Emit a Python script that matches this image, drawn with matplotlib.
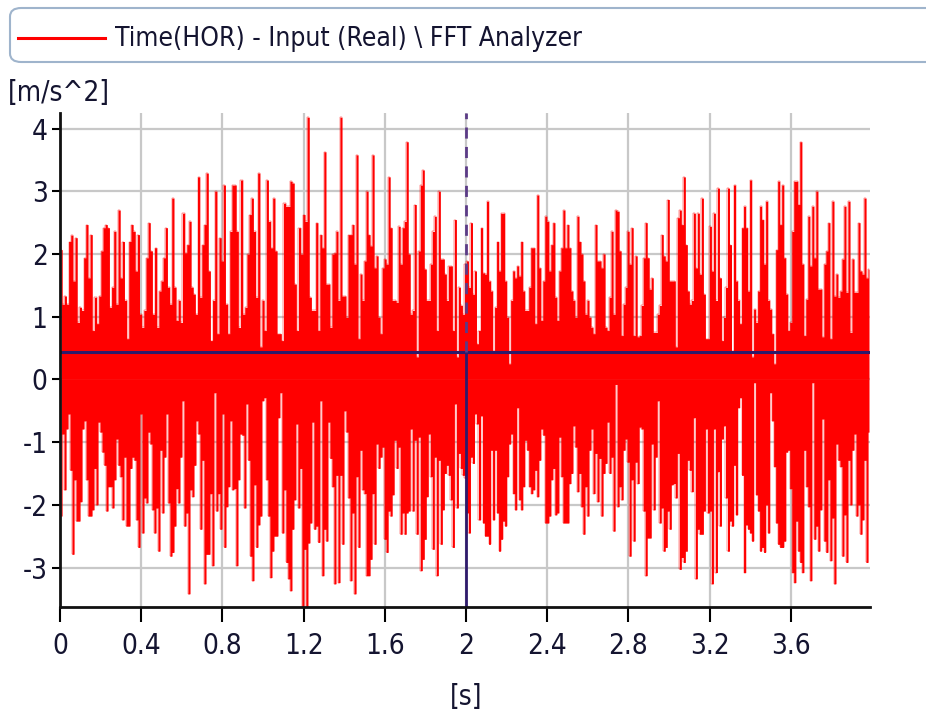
import numpy as np
import matplotlib
matplotlib.use("Agg")
import matplotlib.pyplot as plt
from matplotlib.patches import FancyBboxPatch
from matplotlib.lines import Line2D

plt.rcParams['font.family'] = ['DejaVu Sans']
plt.rcParams['font.stretch'] = 'condensed'
plt.rcParams['axes.unicode_minus'] = False

# ---------------- data ----------------
title_text = "Time(HOR) - Input (Real) \\ FFT Analyzer"
y_unit = "[m/s^2]"
x_unit = "[s]"
x_ticks = [0, 0.4, 0.8, 1.2, 1.6, 2.0, 2.4, 2.8, 3.2, 3.6]
x_tick_labels = ["0", "0.4", "0.8", "1.2", "1.6", "2", "2.4", "2.8", "3.2", "3.6"]
y_ticks = [-3, -2, -1, 0, 1, 2, 3, 4]
t_end = 3.99
cursor_x = 2.0
cursor_y = 0.44
# time breakpoints of the three read segments
seg_t = [0.0, 1.27, 2.754, 3.99]

# upper envelope (positive peaks), segment by segment
upper_a = [2.07,1.2,1.33,1.2,2.2,2.3,1.57,2.26,0.91,1.15,1.1,1.94,2.47,1.62,2.31,0.78,1.31,0.89,1.33,2.05,
           2.42,2.47,2.42,1.15,1.47,2.36,1.2,2.7,1.62,2.2,1.26,0.65,2.2,2.47,2.36,1.73,2.31,1.04,0.83,1.1,
           1.94,2.5,2.05,1.04,2.1,0.83,1.41,1.57,1.94,2.42,1.47,1.2,2.89,1.47,0.94,1.26,0.91,2.65,2.02,2.15,
           2.52,1.47,1.36,1.04,3.23,1.31,2.15,2.47,3.29,1.73,0.62,1.26,3.0,0.73,2.26,1.89,3.1,1.2,0.73,2.36,
           3.1,3.1,2.36,0.83,3.18,1.04,1.15,2.0,2.63,2.89,2.36,1.31,3.29,0.52,1.26,0.78,3.18,2.52,2.1,2.89,
           2.05,0.73,0.73,0.62,2.81,2.76,2.76,3.16,3.13,1.52,0.78,2.42,2.0,2.63,2.52,4.18,1.31,1.1,1.1,2.5]
upper_b = [0.78,2.31,2.1,3.63,1.52,1.52,0.83,2.0,2.02,2.36,1.26,4.18,1.33,1.33,0.99,2.31,2.31,2.47,1.84,3.58,
           0.65,1.68,1.26,1.89,3.0,2.31,2.13,3.58,1.78,1.97,0.99,0.73,1.78,1.92,1.84,3.23,2.42,1.26,1.26,1.23,
           2.44,1.84,2.42,2.52,3.79,2.0,1.04,1.1,2.79,0.36,2.05,3.1,3.34,1.76,1.26,1.26,1.84,2.36,2.6,0.78,
           3.0,1.92,1.92,1.68,1.26,1.81,1.81,0.78,2.55,0.36,1.47,1.18,1.04,1.84,1.89,1.47,2.5,1.36,1.73,0.57,
           0.78,2.42,1.7,1.68,2.84,1.57,1.41,0.46,1.15,2.2,1.73,2.65,2.65,1.57,0.99,0.25,1.26,1.73,1.62,1.81,
           1.65,2.2,1.41,1.1,1.1,1.47,2.1,2.1,0.89,2.94,1.78,0.94,1.57,2.6,2.52,1.73,2.15,2.5,1.31,0.94,
           1.73,2.1,2.7,2.1,2.47,2.1,1.41,1.26,0.99,2.6,2.2,2.0,1.57,1.04,1.26,0.99,0.83,0.73,2.47,1.89,
           1.89,1.78,2.0,0.83,0.78,1.31,2.36,1.04,2.7,2.68]
upper_c = [2.05,0.70,1.2,1.47,2.36,1.84,2.42,0.70,1.97,0.68,0.70,1.18,1.94,2.5,1.94,1.44,1.62,0.75,0.75,1.04,
           1.18,2.31,1.97,1.89,2.87,1.57,1.57,1.57,0.52,2.58,2.7,2.47,3.23,2.15,1.41,1.2,1.26,2.65,1.78,2.65,
           1.68,2.89,1.36,0.65,0.65,2.44,1.73,2.65,1.26,3.05,1.62,0.62,0.99,1.47,3.05,2.15,0.46,3.1,1.57,1.26,
           0.89,2.42,2.76,2.42,1.41,3.18,0.36,1.12,0.91,1.41,2.76,2.55,1.84,2.84,1.26,1.12,0.73,0.25,2.07,3.16,
           2.47,3.1,1.94,1.36,0.78,0.91,2.36,3.16,3.16,2.79,3.79,1.84,0.70,1.28,2.6,1.81,2.76,1.94,3.0,1.44,
           1.44,0.68,1.84,2.05,2.5,0.65,2.84,1.33,1.68,1.31,1.41,1.92,2.76,1.39,2.84,0.75,1.92,1.39,1.39,2.5,
           1.73,1.68,2.89,1.62,1.76]

# lower envelope (negative peaks), segment by segment
lower_a = [-2.18,-0.87,-1.76,-0.79,-0.55,-1.45,-2.79,-1.6,-2.26,-2.26,-1.95,-0.79,-0.66,-1.6,-2.18,-2.18,-2.08,-1.42,-2.0,-0.68,
           -0.84,-1.16,-1.37,-2.1,-1.71,-1.71,-2.05,-1.6,-0.95,-1.37,-1.55,-2.24,-1.24,-2.34,-2.34,-1.42,-1.24,-1.29,-2.24,-2.68,
           -0.55,-2.45,-1.89,-1.97,-0.84,-1.03,-2.08,-2.45,-2.05,-2.74,-1.13,-2.13,-1.24,-0.55,-1.97,-2.82,-2.76,-2.34,-1.74,-1.97,
           -1.24,-0.34,-2.34,-2.13,-3.42,-1.76,-1.87,-1.37,-0.66,-0.87,-2.39,-1.29,-3.26,-2.79,-2.79,-1.82,-2.97,-0.21,-2.1,-1.82,
           -2.39,-0.55,-2.68,-2.03,-1.71,-0.66,-1.76,-1.74,-2.97,-1.6,-0.87,-0.89,-2.05,-0.39,-1.29,-2.82,-3.21,-1.68,-2.68,-2.32,
           -2.18,-0.34,-0.29,-1.6,-2.18,-3.16,-2.74,-2.5,-2.5,-0.61,-0.21,-2.45,-1.76,-2.92,-3.18,-3.37,-2.39,-1.92,-0.71,-2.05,
           -1.42,-3.63,-2.71,-3.63,-2.61,-2.29,-0.68,-2.39,-2.34]
lower_b = [-2.6,-0.34,-3.13,-2.39,-2.58,-0.68,-1.26,-1.71,-3.26,-1.53,-3.24,-1.53,-2.63,-0.5,-0.84,-1.89,-3.21,-2.13,-3.42,-1.55,
           -2.68,-1.13,-1.76,-1.82,-3.13,-3.13,-2.87,-1.82,-2.63,-1.03,-1.42,-1.24,-1.08,-2.55,-2.76,-2.1,-2.18,-1.84,-0.97,-1.42,
           -1.08,-2.47,-2.13,-2.47,-2.13,-2.1,-0.79,-2.1,-0.97,-2.47,-0.92,-3.05,-2.87,-2.55,-1.87,-0.87,-1.55,-2.71,-1.24,-3.13,
           -1.29,-2.63,-2.08,-1.5,-1.37,-1.53,-1.92,-2.68,-0.39,-2.05,-1.18,-1.42,-1.53,-1.58,-2.13,-2.45,-1.24,-1.34,-0.55,-0.71,
           -2.24,-0.58,-2.29,-2.5,-2.5,-2.63,-1.13,-2.24,-1.13,-2.13,-2.74,-2.55,-2.26,-2.34,-1.55,-1.03,-0.87,-1.82,-2.08,-0.45,
           -1.92,-2.08,-1.71,-0.97,-1.13,-1.71,-1.82,-1.76,-1.45,-1.87,-1.29,-0.79,-0.89,-2.29,-2.29,-2.18,-1.6,-1.42,-2.16,-2.13,
           -0.92,-1.55,-2.29,-2.29,-2.29,-1.66,-1.5,-0.74,-1.08,-1.79,-1.5,-2.03,-2.47,-1.71,-2.18,-1.13,-0.79,-1.82,-1.18,-1.95,
           -1.26,-2.18,-1.5,-1.34,-0.68,-1.5,-1.24,-2.42,-0.08,-2.03]
lower_c = [-1.71,-1.92,-1.13,-0.95,-1.32,-2.82,-1.6,-2.58,-1.32,-1.66,-0.76,-0.79,-2.1,-3.13,-2.53,-2.53,-1.03,-2.08,-1.24,-0.34,
           -2.29,-2.05,-2.74,-2.68,-2.1,-2.39,-1.68,-1.66,-1.89,-1.18,-3.03,-2.84,-2.92,-2.74,-1.29,-1.45,-1.79,-0.61,-3.18,-2.39,
           -2.47,-2.47,-2.1,-0.79,-2.13,-2.1,-3.26,-0.79,-3.08,-1.47,-2.34,-0.95,-0.74,-1.89,-2.74,-2.26,-2.34,-1.37,-2.16,-0.45,
           -0.29,-1.53,-3.08,-2.32,-2.39,-2.45,-2.58,-0.05,-1.84,-2.1,-2.74,-2.68,-2.76,-2.0,-2.45,-0.21,-0.66,-1.39,-2.29,-2.63,
           -2.68,-2.68,-2.58,-1.16,-1.13,-1.74,-3.08,-3.24,-2.26,-2.74,-2.92,-3.08,-1.13,-1.71,-2.03,-3.21,-0.05,-2.55,-2.34,-2.74,
           -2.08,-0.63,-2.58,-2.76,-1.6,-2.89,-2.21,-3.26,-1.03,-1.29,-1.39,-2.82,-2.16,-2.92,-1.29,-2.0,-1.13,-0.87,-2.18,-2.0,
           -2.47,-2.24,-1.29,-2.92,-0.84]

# ---------------- build time axes per segment ----------------
def seg_times(segments):
    ts = []
    for i, seg in enumerate(segments):
        n = len(seg)
        t0, t1 = seg_t[i], seg_t[i + 1]
        ts.append(t0 + (np.arange(n) + 0.5) * (t1 - t0) / n)
    return np.concatenate(ts)

upper = np.concatenate([upper_a, upper_b, upper_c])
lower = np.concatenate([lower_a, lower_b, lower_c])
t_up = seg_times([upper_a, upper_b, upper_c])
t_lo = seg_times([lower_a, lower_b, lower_c])

# ---------------- figure ----------------
W, H = 926, 720
fig = plt.figure(figsize=(W / 100, H / 100), dpi=100)
ax = fig.add_axes([60 / W, 1 - 607 / H, (870 - 60) / W, (607 - 113) / H])

red = '#ff0000'
ax.fill_between(t_up, 0, upper, step='mid', color=red, lw=0, zorder=2)
ax.fill_between(t_lo, lower, 0, step='mid', color=red, lw=0, zorder=2)
ax.step(t_up, upper, where='mid', color=red, lw=0.3, zorder=2)
ax.step(t_lo, lower, where='mid', color=red, lw=0.3, zorder=2)

ax.set_xlim(0, t_end)
ax.set_ylim(-3.63, 4.25)

navy = '#2e1a6b'
ax.axhline(cursor_y, color=navy, lw=2.2, zorder=4)
ax.plot([cursor_x, cursor_x], [ax.get_ylim()[0], cursor_y], color=navy, lw=2, zorder=4)
ax.plot([cursor_x, cursor_x], [cursor_y, ax.get_ylim()[1]], color='#5b3b86', lw=2,
        linestyle=(0, (4, 3)), zorder=4)

ax.set_xticks(x_ticks)
ax.set_xticklabels(x_tick_labels)
ax.set_yticks(y_ticks)
ax.grid(True, color='#c8c8c8', lw=1.6, zorder=0)
ax.set_axisbelow(True)

for s in ['top', 'right']:
    ax.spines[s].set_visible(False)
for s in ['left', 'bottom']:
    ax.spines[s].set_linewidth(2)
    ax.spines[s].set_color('#111111')
    ax.spines[s].set_zorder(5)

tick_color = '#141430'
ax.tick_params(axis='y', direction='out', length=6, width=1.5, pad=3,
               labelsize=20, labelcolor=tick_color)
ax.tick_params(axis='x', direction='out', length=11, width=1.5, pad=7,
               labelsize=20, labelcolor=tick_color)

# legend box at the top
box = FancyBboxPatch((10 / W, 1 - 62 / H), (940 - 10) / W, (62 - 8) / H,
                     boxstyle="round,pad=0,rounding_size=0.012",
                     transform=fig.transFigure, fc='white', ec='#9fb4cc', lw=1.5,
                     clip_on=False)
fig.patches.append(box)
fig.add_artist(Line2D([18 / W, 105 / W], [1 - 38 / H, 1 - 38 / H], color=red, lw=2.2,
                      transform=fig.transFigure))
fig.text(115 / W, 1 - 39 / H, title_text, fontsize=19, color='#141430',
         va='center', ha='left')

fig.text(8 / W, 1 - 93 / H, y_unit, fontsize=20, color='#141430', va='center', ha='left')
fig.text(466 / W, 1 - 697 / H, x_unit, fontsize=20, color='#141430', va='center', ha='center')

fig.savefig('out.png', dpi=100)
